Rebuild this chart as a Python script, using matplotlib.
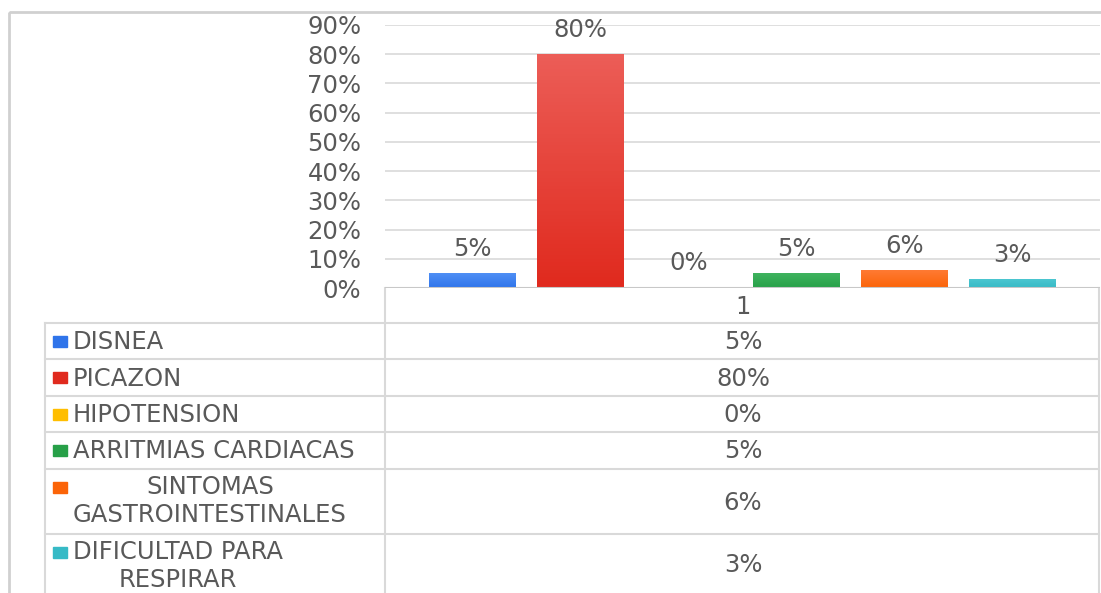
import numpy as np
import matplotlib
matplotlib.use("Agg")
from matplotlib import pyplot as plt
from matplotlib.patches import Rectangle

plt.rcParams['font.family'] = ['DejaVu Sans']

categories = ['DISNEA', 'PICAZON', 'HIPOTENSION', 'ARRITMIAS CARDIACAS',
              'SINTOMAS\nGASTROINTESTINALES', 'DIFICULTAD PARA\nRESPIRAR']
values = [0.05, 0.80, 0.00, 0.05, 0.06, 0.03]
labels = ['5%', '80%', '0%', '5%', '6%', '3%']
group_label = '1'
colors_top = ['#4f8ff5', '#ec5d57', '#ffcc33', '#3fb35f', '#ff7a33', '#4cc6d0']
colors_bot = ['#2f74ea', '#e02a1e', '#ffbe00', '#27a048', '#fb6408', '#36bac6']

W, H = 1101, 593
txt = '#595959'
grid = '#d9d9d9'
fs = 17.5

fig = plt.figure(figsize=(W / 100, H / 100), dpi=100)

# overlay in pixel coordinates for table and frame
bg = fig.add_axes([0, 0, 1, 1])
bg.set_xlim(0, W)
bg.set_ylim(H, 0)
bg.axis('off')
bg.add_patch(Rectangle((9, 12), 1200, 700, fill=False, ec='#d0d0d0', lw=2))

# chart area
ax = fig.add_axes([385 / W, (H - 288) / H, 715 / W, (288 - 25) / H])
x = np.arange(len(values))
bars = ax.bar(x, values, width=0.8, color=colors_bot, zorder=3)
for b, c0, c1 in zip(bars, colors_top, colors_bot):
    h = b.get_height()
    if h <= 0:
        continue
    grad = np.linspace(0, 1, 64).reshape(-1, 1)
    cmap = matplotlib.colors.LinearSegmentedColormap.from_list('g', [c0, c1])
    im = ax.imshow(grad, cmap=cmap, aspect='auto', zorder=4,
                   extent=[b.get_x(), b.get_x() + b.get_width(), 0, h])
    im.set_clip_path(b)
for xi, v, lab in zip(x, values, labels):
    ax.annotate(lab, (xi, v), xytext=(0, 9), textcoords='offset points',
                ha='center', va='bottom', fontsize=fs, color=txt)

ax.set_xlim(2.5 - 3.31, 2.5 + 3.31)
ax.set_ylim(0, 0.9)
ax.set_yticks(np.arange(0, 0.91, 0.1))
ax.set_yticklabels([f'{int(round(t * 100))}%' for t in np.arange(0, 0.91, 0.1)])
ax.tick_params(axis='y', length=0, pad=17, labelsize=fs, labelcolor=txt)
ax.set_xticks([])
ax.grid(axis='y', color=grid, lw=1.2, zorder=0)
for s in ax.spines.values():
    s.set_visible(False)
ax.axhline(0, color='#c8c8c8', lw=1.5, zorder=5)
ax.set_facecolor('none')

# data table
row_edges = [288, 323, 359, 396, 432, 469, 534, 600]
bg.plot([385, 385], [288, H], color=grid, lw=1.5)
bg.plot([1099, 1099], [288, H], color=grid, lw=1.5)
bg.plot([45, 45], [323, H], color=grid, lw=1.5)
for y in row_edges[1:-1]:
    bg.plot([45, 1099], [y, y], color=grid, lw=1.5)
bg.text(743, (288 + 323) / 2 + 1, group_label, ha='center', va='center',
        fontsize=fs, color=txt)
for i, (cat, lab) in enumerate(zip(categories, labels)):
    y0, y1 = row_edges[i + 1], row_edges[i + 2]
    ym = (y0 + y1) / 2
    if i == len(categories) - 1:
        ym = (534 + 593) / 2
    top = y0 + 18
    bg.add_patch(Rectangle((53, top - 5), 14, 11, color=colors_bot[i]))
    if '\n' in cat:
        bg.text(73, top - 12, cat, ha='left', va='top', fontsize=fs,
                color=txt, multialignment='center', linespacing=1.2)
    else:
        bg.text(73, ym + 1, cat, ha='left', va='center', fontsize=fs, color=txt)
    bg.text(743, ym + 1, lab, ha='center', va='center', fontsize=fs, color=txt)

fig.savefig('out.png', dpi=100)
